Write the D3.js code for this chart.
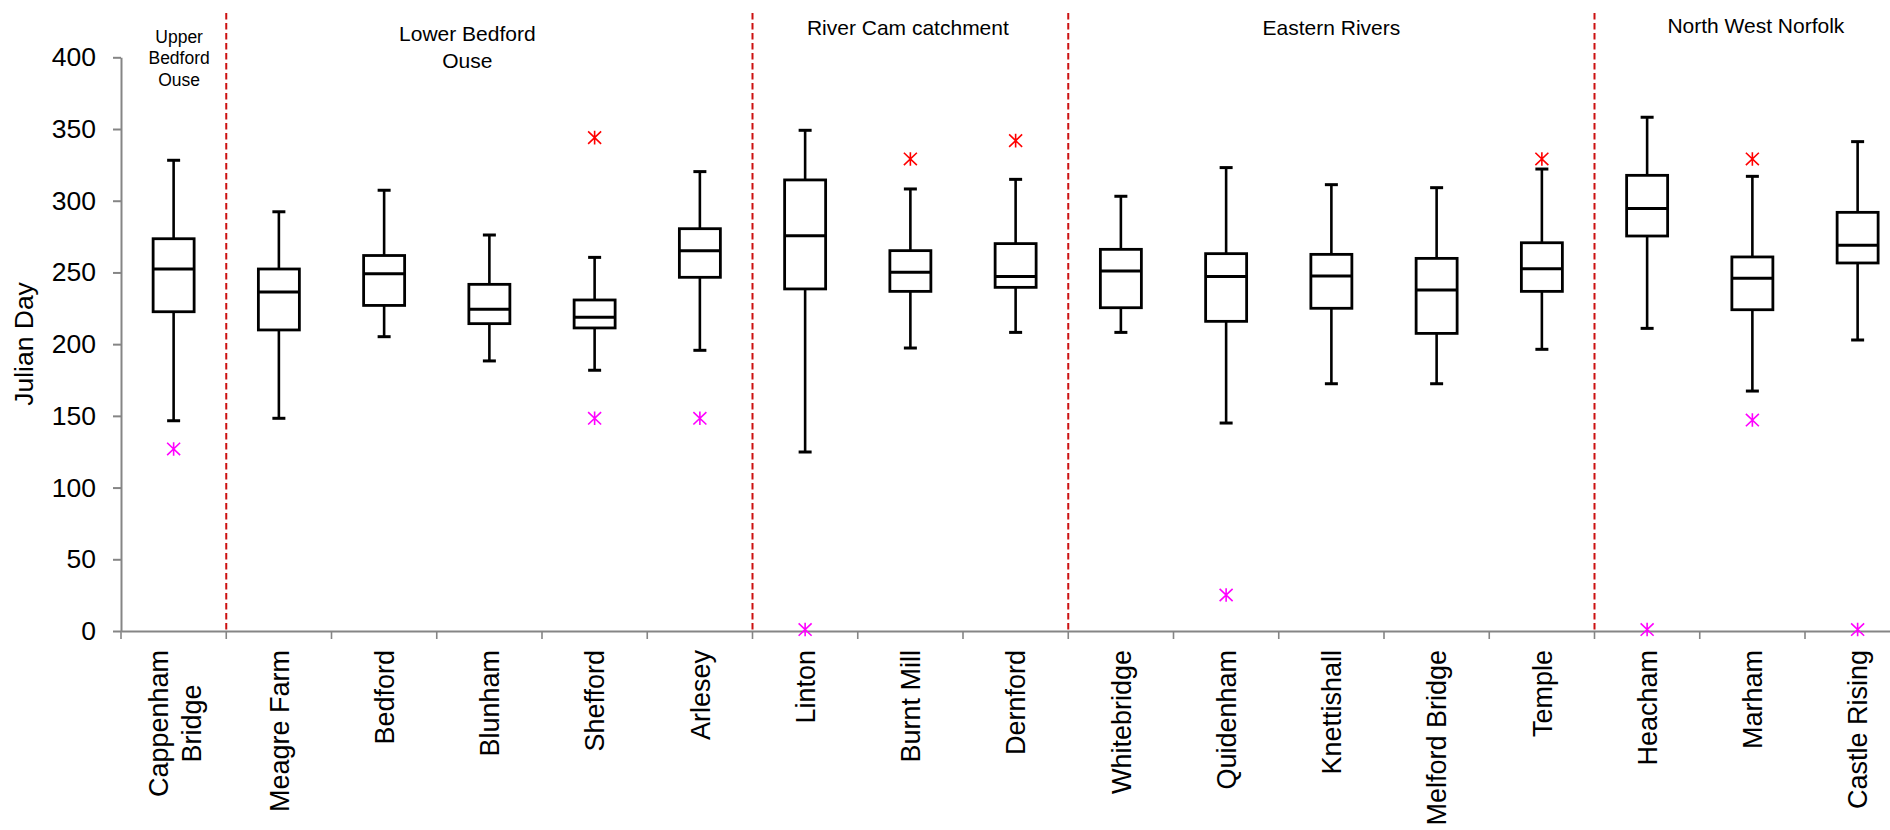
<!DOCTYPE html>
<html>
<head>
<meta charset="utf-8">
<script src="https://cdn.jsdelivr.net/npm/d3@7"></script>
<style>
  html, body { margin: 0; padding: 0; background: #fff; overflow: hidden; }
  svg { display: block; font-family: "Liberation Sans", Arial, sans-serif; }
</style>
</head>
<body>
<svg id="chart" width="1890" height="830"></svg>
<script>
// ---------- DATA ----------
const categories = ["Cappenham\nBridge", "Meagre Farm", "Bedford", "Blunham", "Shefford", "Arlesey",
  "Linton", "Burnt Mill", "Dernford", "Whitebridge", "Quidenham", "Knettishall", "Melford Bridge",
  "Temple", "Heacham", "Marham", "Castle Rising"];
const whiskerLow  = [146.6, 148.3, 205.2, 188.3, 181.8, 195.7, 124.8, 197.3, 208.2, 208.2, 145.0, 172.4, 172.4, 196.4, 211.0, 167.3, 202.9];
const q1          = [222.6, 209.9, 227.0, 214.3, 211.3, 246.6, 238.5, 236.8, 239.6, 225.4, 215.9, 225.0, 207.5, 236.8, 275.4, 224.0, 256.6];
const medianVals  = [252.4, 236.4, 249.0, 224.3, 218.7, 265.2, 275.6, 250.1, 247.1, 251.0, 247.1, 247.5, 237.8, 252.6, 294.5, 245.9, 268.9];
const q3          = [273.5, 252.4, 261.8, 241.7, 230.8, 280.5, 314.5, 265.2, 270.1, 266.1, 263.1, 262.6, 259.8, 270.7, 317.7, 260.8, 291.9];
const whiskerHigh = [328.2, 292.3, 307.3, 276.1, 260.5, 320.3, 349.1, 308.2, 314.9, 303.1, 323.1, 311.2, 309.1, 322.1, 358.2, 317.0, 341.2];
const outlierHigh = [null, null, null, null, 344.0, null, null, 329.1, 341.9, null, null, null, null, 329.1, null, 329.1, null];
const outlierLow  = [126.9, null, null, null, 148.3, 148.3, 1, null, null, null, 25.1, null, null, null, 1, 147.1, 1];
const yTicks = [0, 50, 100, 150, 200, 250, 300, 350, 400];
const groupNames   = ["Upper\nBedford\nOuse", "Lower Bedford\nOuse", "River Cam catchment", "Eastern Rivers", "North West Norfolk"];
const groupAnchors = ["Cappenham\nBridge", "Blunham", "Burnt Mill", "Knettishall", "Marham"];
const dividerAfter = ["Cappenham\nBridge", "Arlesey", "Dernford", "Temple"];
const yTitle = "Julian Day";

// ---------- LAYOUT ----------
const svg = d3.select("#chart");
const x0 = 121, step = 105.25;
const x = d3.scaleBand().domain(categories).range([x0, x0 + step * categories.length]).padding(0);
const y = d3.scaleLinear().domain([0, 400]).range([631, 57.3]);
const bw = x.bandwidth();
const cx = c => x(c) + bw / 2;
const axisCol = "#858585";

// dividers
svg.append("g").selectAll("line").data(dividerAfter).join("line")
  .attr("x1", d => x(d) + bw).attr("x2", d => x(d) + bw)
  .attr("y1", 13).attr("y2", y(0))
  .attr("stroke", "#cc1111").attr("stroke-width", 2)
  .attr("stroke-dasharray", "6.5,3.5");

// y axis
const yAxis = svg.append("g").attr("transform", `translate(${x0},0)`)
  .call(d3.axisLeft(y).tickValues(yTicks).tickSize(8).tickSizeOuter(0).tickPadding(17));
yAxis.select(".domain").attr("stroke", axisCol).attr("stroke-width", 2);
yAxis.selectAll(".tick line").attr("stroke", axisCol).attr("stroke-width", 2);
yAxis.selectAll(".tick text").attr("font-size", "26.5px").attr("fill", "#000")
  .attr("font-family", "'Liberation Sans', Arial, sans-serif");

// x axis
const xAxis = svg.append("g").attr("transform", `translate(0,${y(0)})`)
  .call(d3.axisBottom(x).tickSize(0).tickSizeOuter(0).tickFormat(""));
xAxis.select(".domain").attr("stroke", axisCol).attr("stroke-width", 2);
xAxis.selectAll(".tick").remove();
svg.append("g").selectAll("line").data(categories).join("line")
  .attr("x1", d => x(d)).attr("x2", d => x(d))
  .attr("y1", y(0)).attr("y2", y(0) + 8)
  .attr("stroke", axisCol).attr("stroke-width", 1.6);

// category labels
const labelTop = 650;
const labelFs = "27px";
const lblG = svg.append("g");
categories.forEach(c => {
  const lines = c.split("\n");
  const g = lblG.append("g");
  if (lines.length === 1) {
    g.append("text")
      .attr("transform", `translate(${cx(c)},${labelTop}) rotate(-90)`)
      .attr("text-anchor", "end").attr("dy", "0.36em")
      .attr("font-size", labelFs).text(c);
  } else {
    const tmp = g.append("text").attr("font-size", labelFs).text(lines.reduce((a, b) => a.length > b.length ? a : b));
    const L = tmp.node().getComputedTextLength();
    tmp.remove();
    const lh = 33.5;
    lines.forEach((ln, i) => {
      const off = (i - (lines.length - 1) / 2) * lh;
      g.append("text")
        .attr("transform", `translate(${cx(c) + off + 1},${labelTop + L / 2}) rotate(-90)`)
        .attr("text-anchor", "middle").attr("dy", "0.36em")
        .attr("font-size", labelFs).text(ln);
    });
  }
});

// y title
svg.append("text")
  .attr("transform", `translate(33,344) rotate(-90)`)
  .attr("text-anchor", "middle").attr("font-size", "26.5px").text(yTitle);

// group labels
const gl = svg.append("g");
groupNames.forEach((name, i) => {
  const lines = name.split("\n");
  const small = i === 0;
  const fs = small ? 17.5 : 21;
  const lh = small ? 21.7 : 27.3;
  const offX = [5.5, -22, -2.5, 0, 3.5][i];
  const base = [42.7, 41, 35, 35, 33.3][i];
  lines.forEach((ln, j) => {
    gl.append("text")
      .attr("x", cx(groupAnchors[i]) + offX)
      .attr("y", base + j * lh)
      .attr("text-anchor", "middle")
      .attr("font-size", fs + "px").text(ln);
  });
});

// boxes
const boxW = 41, capW = 13;
const bg = svg.append("g").attr("stroke", "#000").attr("fill", "none");
categories.forEach((c, i) => {
  const xc = cx(c);
  bg.append("line").attr("x1", xc).attr("x2", xc).attr("y1", y(q3[i])).attr("y2", y(whiskerHigh[i])).attr("stroke-width", 2.6);
  bg.append("line").attr("x1", xc).attr("x2", xc).attr("y1", y(q1[i])).attr("y2", y(whiskerLow[i])).attr("stroke-width", 2.6);
  bg.append("line").attr("x1", xc - capW / 2).attr("x2", xc + capW / 2).attr("y1", y(whiskerHigh[i])).attr("y2", y(whiskerHigh[i])).attr("stroke-width", 3);
  bg.append("line").attr("x1", xc - capW / 2).attr("x2", xc + capW / 2).attr("y1", y(whiskerLow[i])).attr("y2", y(whiskerLow[i])).attr("stroke-width", 3);
  bg.append("rect").attr("x", xc - boxW / 2).attr("width", boxW)
    .attr("y", y(q3[i])).attr("height", y(q1[i]) - y(q3[i]))
    .attr("fill", "#fff").attr("stroke-width", 2.8);
  bg.append("line").attr("x1", xc - boxW / 2).attr("x2", xc + boxW / 2)
    .attr("y1", y(medianVals[i])).attr("y2", y(medianVals[i])).attr("stroke-width", 3);
});

// outliers (star markers)
const star = "M0,-6.8V6.8M-6.5,-6.2L6.5,6.2M-6.5,6.2L6.5,-6.2";
const og = svg.append("g").attr("fill", "none");
categories.forEach((c, i) => {
  if (outlierHigh[i] != null) {
    og.append("path").attr("d", star).attr("transform", `translate(${cx(c)},${y(outlierHigh[i])})`)
      .attr("stroke", "#ff0000").attr("stroke-width", 1.6);
  }
  if (outlierLow[i] != null) {
    og.append("path").attr("d", star).attr("transform", `translate(${cx(c)},${y(outlierLow[i])})`)
      .attr("stroke", "#ff00ff").attr("stroke-width", 1.6);
  }
});
</script>
</body>
</html>
